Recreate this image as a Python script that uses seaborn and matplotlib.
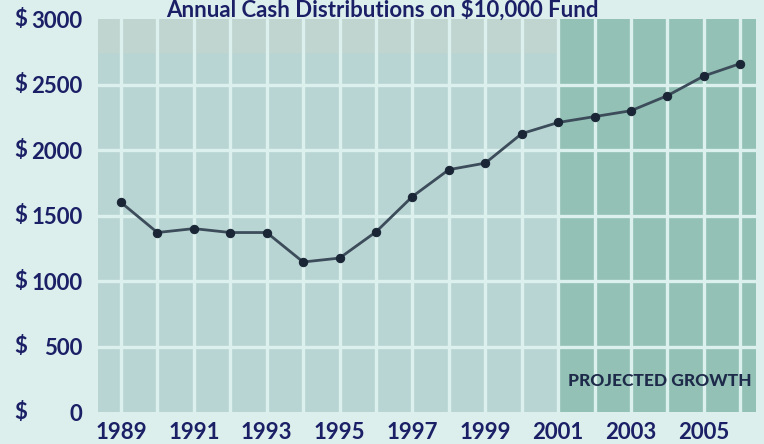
import pandas as pd
import matplotlib.pyplot as plt
import matplotlib.transforms as mtransforms
import seaborn as sns

# data
years = [1989, 1990, 1991, 1992, 1993, 1994, 1995, 1996, 1997,
         1998, 1999, 2000, 2001, 2002, 2003, 2004, 2005, 2006]
cash = [1600, 1370, 1400, 1370, 1370, 1145, 1175, 1375, 1645,
        1850, 1900, 2125, 2210, 2255, 2300, 2415, 2565, 2660]
yticks = [0, 500, 1000, 1500, 2000, 2500, 3000]
xticks = [1989, 1991, 1993, 1995, 1997, 1999, 2001, 2003, 2005]
projected_start = 2001

df = pd.DataFrame({'Year': years, 'Cash': cash})

sns.set_theme(style='white')
plt.rcParams['font.family'] = ['Lato', 'DejaVu Sans']

navy = '#1b1f66'
x0, x1 = 1988.37, 2006.43

fig = plt.figure(figsize=(7.64, 4.44), dpi=100)
fig.patch.set_facecolor('#dcefed')
ax = fig.add_axes([98 / 764, 1 - 412 / 444, 658 / 764, 393 / 444])
ax.set_facecolor('#b9d5d3')

ax.set_xlim(x0, x1)
ax.set_ylim(0, 3000)

# darker band for the projected years
ax.axvspan(projected_start + 0.05, x1, color='#93c1b5', zorder=0)
# slightly greyer top row on the historical side
ax.axhspan(2750, 3000, xmax=(projected_start - x0) / (x1 - x0), color='#c0d4d0', zorder=0)

# white grid: every year, every $500
for yr in years:
    ax.axvline(yr, color='#dcf1ed', lw=2.4, zorder=1)
for v in yticks[1:-1]:
    ax.axhline(v, color='#dcf1ed', lw=2.4, zorder=1)

sns.lineplot(data=df, x='Year', y='Cash', ax=ax, color='#3c4c5a', lw=2,
             marker='o', markersize=6, markerfacecolor='#1a2636',
             markeredgecolor='#1a2636', zorder=3)

for s in ax.spines.values():
    s.set_visible(False)

ax.set_xticks(xticks)
ax.set_xticklabels([str(x) for x in xticks], fontsize=16, fontweight='bold', color=navy)
ax.set_yticks(yticks)
ax.set_yticklabels([str(v) for v in yticks], fontsize=16, fontweight='bold', color=navy)
ax.tick_params(axis='y', length=0, pad=11)
ax.tick_params(axis='x', length=0, pad=7)
ax.set_xlabel('')
ax.set_ylabel('')

# dollar signs at the left edge of each y label
dollar_tr = mtransforms.blended_transform_factory(fig.transFigure, ax.transData)
for v in yticks:
    ax.text(14 / 764, v, '$', transform=dollar_tr, fontsize=16, fontweight='bold',
            color=navy, va='center', ha='left')

ax.text(0.994, 0.079, 'PROJECTED GROWTH', transform=ax.transAxes, ha='right', va='center',
        fontsize=12.5, fontweight='black', color='#1e2a4a')

fig.text(0.501, 1 - 17 / 444, 'Annual Cash Distributions on $10,000 Fund', ha='center',
         va='baseline', fontsize=16, fontweight='bold', color=navy)

plt.savefig('out.png', dpi=100, facecolor=fig.get_facecolor())
